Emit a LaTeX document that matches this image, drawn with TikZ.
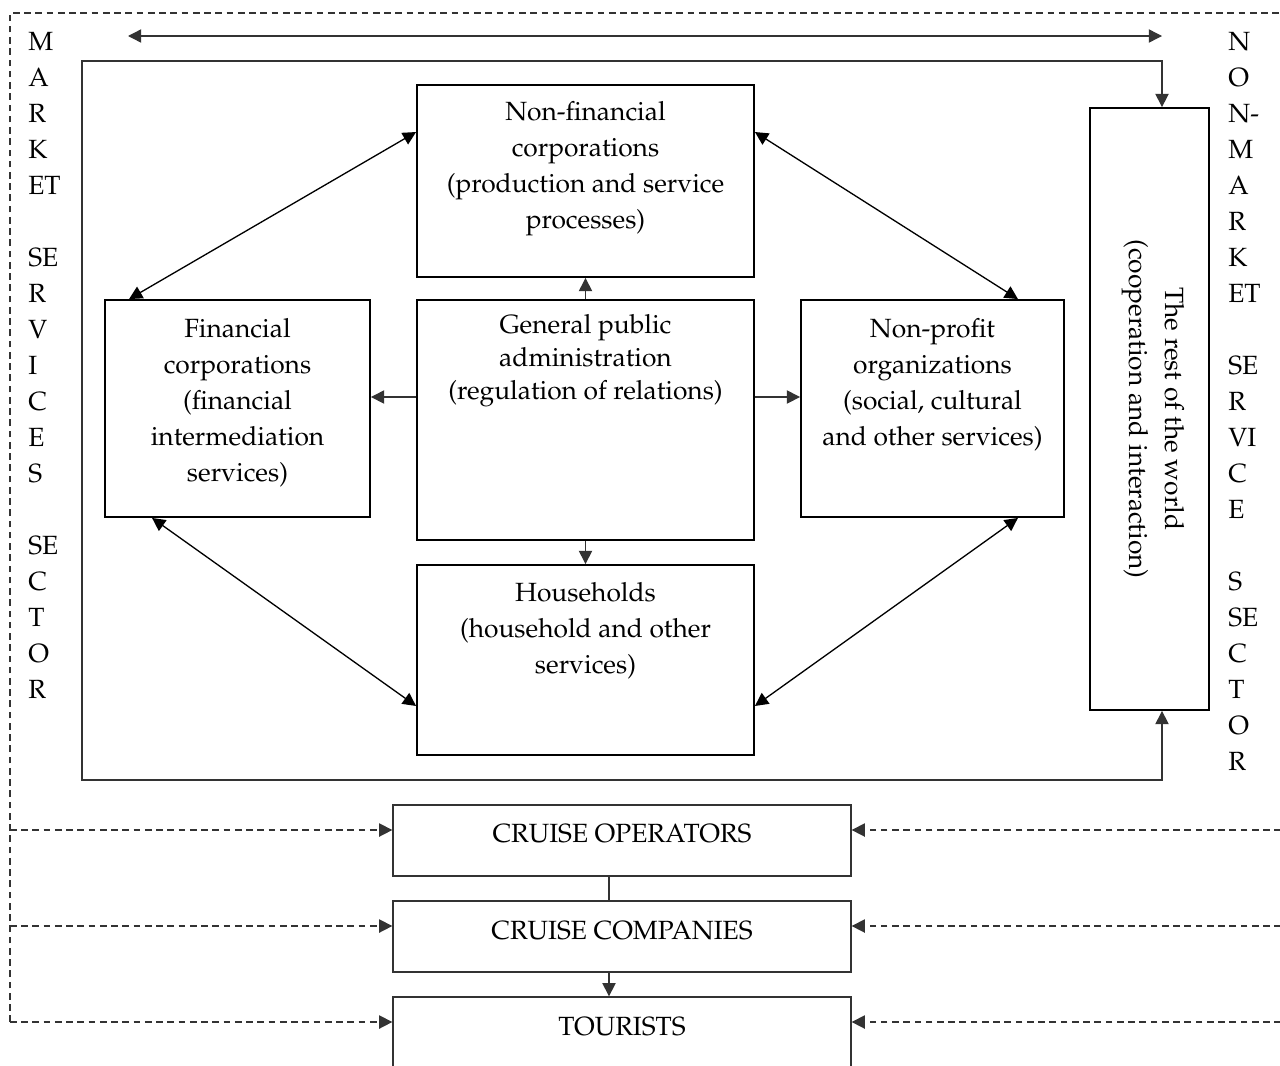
\documentclass[tikz,border=0pt]{standalone}
\usepackage[T1]{fontenc}
\usepackage{mathpazo}
\usetikzlibrary{arrows.meta,calc}

\tikzset{
    >={Triangle[length=7.5pt,width=7.5pt]},
    box/.style={draw, line width=1.1pt, inner sep=0pt},
    cruise/.style={draw=black!80, line width=0.8pt, inner sep=0pt,
        minimum width=9.16cm, minimum height=1.42cm},
    txt/.style={align=center, inner sep=0pt, font=\fontsize{15}{20.5}\selectfont},
    side/.style={inner sep=0pt, font=\fontsize{15}{20.5}\selectfont},
    link/.style={line width=0.8pt, draw=black!80},
    dashlink/.style={line width=0.9pt, draw=black!80, dash pattern=on 3.8pt off 2.6pt},
}

\begin{document}
\begin{tikzpicture}[x=0.02cm, y=-0.02cm]
    \clip (0,0) rectangle (1280,1065);

    % Sector boxes
    \node[box, minimum width=6.74cm, minimum height=3.84cm] (nonfin) at (585.5,181) {};
    \node[box, minimum width=5.3cm, minimum height=4.34cm] (fin) at (237.5,408.5) {};
    \node[box, minimum width=6.74cm, minimum height=4.8cm] (gov) at (585.5,420) {};
    \node[box, minimum width=5.26cm, minimum height=4.34cm] (nonprof) at (932.5,408.5) {};
    \node[box, minimum width=6.74cm, minimum height=3.8cm] (house) at (585.5,660) {};
    \node[box, minimum width=2.38cm, minimum height=12.04cm] (world) at (1149.5,409) {};

    % Sector texts
    \node[txt] (nonfintxt) at (585.5,168.5) {Non-financial\\corporations\\(production and service\\processes)};
    \node[txt] (fintxt) at (237.5,402.5) {Financial\\corporations\\(financial\\intermediation\\services)};
    \node[txt, font=\fontsize{15}{18.8}\selectfont] (govtxt) at (585.5,361) {General public\\administration\\(regulation of relations)};
    \node[txt] (nonproftxt) at (932.5,385) {Non-profit\\organizations\\(social, cultural\\and other services)};
    \node[txt] (housetxt) at (585.5,631) {Households\\(household and other\\services)};
    \node[txt, rotate=-90] (worldtxt) at (1153,409) {The rest of the world\\(cooperation and interaction)};

    % Cruise chain
    \node[cruise] (oper) at (622,840.5) {};
    \node[cruise] (comp) at (622,936.5) {};
    \node[cruise, minimum height=2cm] (tour) at (622,1047) {};
    \node[txt] (opertxt) at (622,834) {CRUISE OPERATORS};
    \node[txt] (comptxt) at (622,931) {CRUISE COMPANIES};
    \node[txt] (tourtxt) at (622,1027) {TOURISTS};

    % Side labels
    \foreach \t [count=\i] in {M,A,R,K,ET,{},SE,R,V,I,C,E,S,{},SE,C,T,O,R}
        \node[side, anchor=base west] (mkt\i) at (28,{50+36*(\i-1)}) {\t};
    \foreach \t [count=\i] in {N,O,N-,M,A,R,K,ET,{},SE,R,VI,C,E,{},S,SE,C,T,O,R}
        \node[side, anchor=base west] (nmkt\i) at (1228,{50+36*(\i-1)}) {\t};

    % Diagonal links
    \draw[line width=0.75pt, <->] ([xshift=0.5cm]fin.north west) -- ([yshift=-0.96cm]nonfin.north west);
    \draw[line width=0.75pt, <->] ([yshift=-0.96cm]nonfin.north east) -- ([xshift=-0.94cm]nonprof.north east);
    \draw[line width=0.75pt, <->] ([xshift=0.96cm]fin.south west) -- ([yshift=1cm]house.south west);
    \draw[line width=0.75pt, <->] ([xshift=-0.94cm]nonprof.south east) -- ([yshift=1cm]house.south east);

    % Administration links
    \draw[link, ->] (gov.north) -- (nonfin.south);
    \draw[link, ->] (gov.south) -- (house.north);
    \coordinate (gw) at ([yshift=0.46cm]gov.west);
    \coordinate (ge) at ([yshift=0.46cm]gov.east);
    \draw[link, ->] (gw) -- (gw -| fin.east);
    \draw[link, ->] (ge) -- (ge -| nonprof.west);

    % Frame and top arrow
    \coordinate (tl) at (128,36);
    \coordinate (tr) at (1162,36);
    \draw[link, <->] (tl) -- (tr);
    \coordinate (fr) at (1162,61);
    \coordinate (fl) at (82,780);
    \draw[link, <->] (world.north -| fr) -- (fr) -| (fl) -| (world.south -| fr);

    % Cruise links
    \draw[link] ([xshift=-0.26cm]oper.south) -- ([xshift=-0.26cm]comp.north);
    \draw[link, ->] ([xshift=-0.26cm]comp.south) -- ([xshift=-0.26cm]tour.north);

    % Dashed sector frame
    \draw[dashlink] (10,1022) -- (10,13) -- (1281,13) -- (1281,1022);
    \foreach \b/\yy in {oper/830, comp/926, tour/1022} {
        \coordinate (l\b) at (10,\yy);
        \coordinate (r\b) at (1281,\yy);
        \draw[dashlink, ->] (l\b) -- (l\b -| \b.west);
        \draw[dashlink, ->] (r\b) -- (r\b -| \b.east);
    }
\end{tikzpicture}
\end{document}
